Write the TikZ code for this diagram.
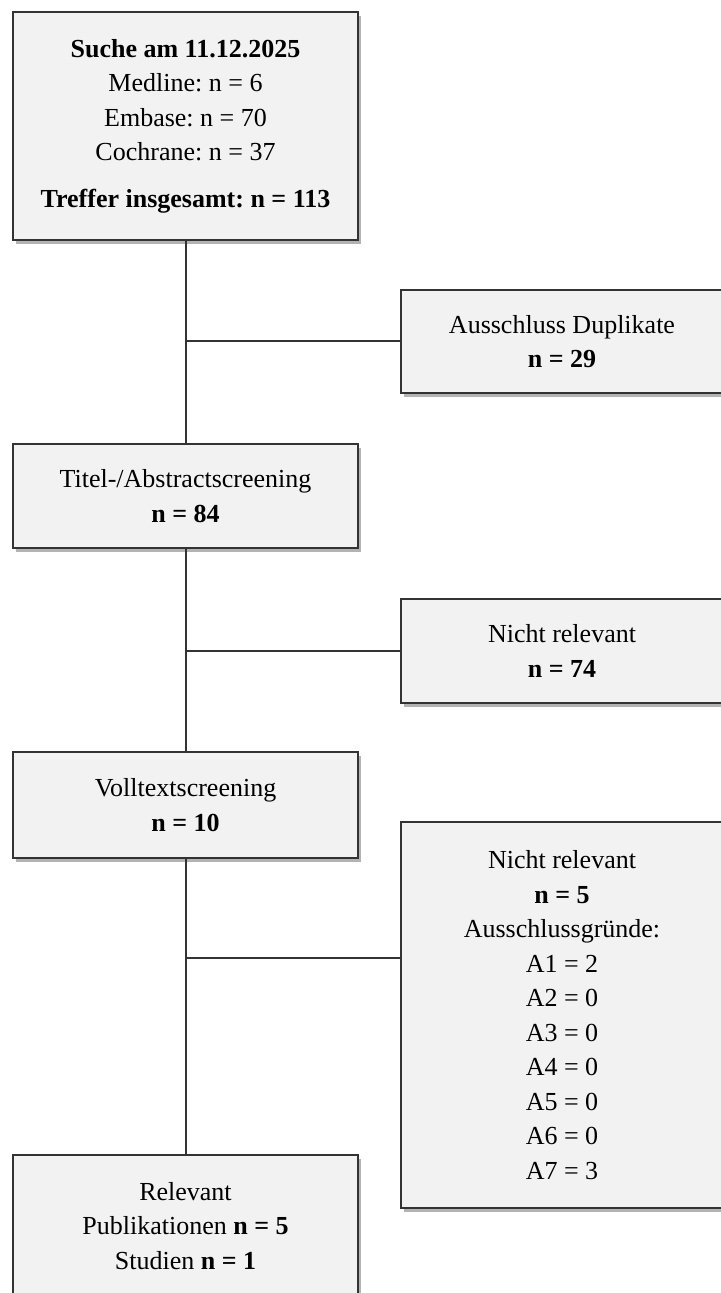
\documentclass[tikz,border=0pt]{standalone}
\usepackage{fontspec}
\setmainfont{Liberation Serif}
\frenchspacing
\usetikzlibrary{shadows}
\definecolor{boxfill}{HTML}{F2F2F2}
\definecolor{boxline}{HTML}{333333}
\tikzset{
  box/.style={draw=boxline,line width=1pt,fill=boxfill,align=center,inner sep=0pt,
    drop shadow={shadow xshift=1.5pt,shadow yshift=-1.8pt,opacity=0.6,fill=gray},
    font=\fontsize{13}{17.25}\selectfont},
  flow/.style={draw=boxline,line width=1pt}
}
\begin{document}
\begin{tikzpicture}[x=0.5pt,y=-0.5pt]
\useasboundingbox (0,0) rectangle (720,1293);
\node[box,minimum width=172.5pt,minimum height=114pt] (suche) at (185.5,126)
  {\textbf{Suche am 11.12.2025}\\Medline: n = 6\\Embase: n = 70\\Cochrane: n = 37\\[6pt]\textbf{Treffer insgesamt: n = 113}};
\node[box,minimum width=161pt,minimum height=51.5pt] (dupl) at (562,341.5)
  {Ausschluss Duplikate\\\textbf{n = 29}};
\node[box,minimum width=172.5pt,minimum height=52pt] (titel) at (185.5,496)
  {Titel-/Abstractscreening\\\textbf{n = 84}};
\node[box,minimum width=161pt,minimum height=52pt] (nrone) at (562,651)
  {Nicht relevant\\\textbf{n = 74}};
\node[box,minimum width=172.5pt,minimum height=53pt] (voll) at (185.5,805)
  {Volltextscreening\\\textbf{n = 10}};
\node[box,minimum width=161pt,minimum height=193pt] (nrtwo) at (562,1015)
  {Nicht relevant\\\textbf{n = 5}\\Ausschlussgründe:\\A1 = 2\\A2 = 0\\A3 = 0\\A4 = 0\\A5 = 0\\A6 = 0\\A7 = 3};
\node[box,minimum width=172.5pt,minimum height=71pt] (rel) at (185.5,1226)
  {Relevant\\Publikationen \textbf{n = 5}\\Studien \textbf{n = 1}};
\coordinate (bone) at (185.5,341.5);
\coordinate (btwo) at (185.5,651);
\coordinate (bthree) at (185.5,958);
\draw[flow] (suche) -- (titel);
\draw[flow] (titel) -- (voll);
\draw[flow] (voll) -- (rel);
\draw[flow] (bone) -- (dupl.west);
\draw[flow] (btwo) -- (nrone.west);
\draw[flow] (bthree) -- (bthree -| nrtwo.west);
\end{tikzpicture}
\end{document}
